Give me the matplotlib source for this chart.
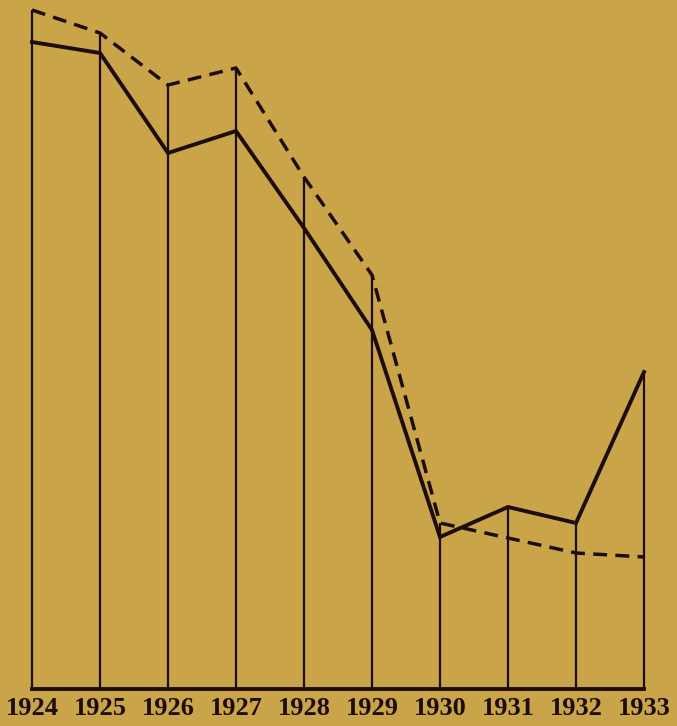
"""
Recreate an old printed line chart: two series (solid and dashed) over 1924-1933,
with vertical drop lines at every year down to a heavy baseline.
"""

import matplotlib
matplotlib.use("Agg")
import matplotlib.pyplot as plt

# Data (arbitrary units, baseline = 0)
years = [1924, 1925, 1926, 1927, 1928, 1929, 1930, 1931, 1932, 1933]
solid_values = [647, 636, 536, 558, 461, 359, 152, 182, 166, 317]
dashed_values = [679, 656, 604, 621, 512, 414, 166, 151, 136, 132]
year_labels = [str(y) for y in years]

BG = "#caa449"
INK = "#1c0d0c"


def main():
    fig = plt.figure(figsize=(6.77, 7.26), dpi=100)
    fig.patch.set_facecolor(BG)

    # axes placed so that the first/last years sit at the picture's drop lines
    left, right = 32 / 677, 644 / 677
    bottom, top = (726 - 689) / 726, 1.0
    ax = fig.add_axes([left, bottom, right - left, top - bottom])
    ax.set_facecolor(BG)
    ax.set_xlim(years[0], years[-1])
    ax.set_ylim(0, 689)

    # vertical drop lines up to the higher of the two series
    for x, s, d in zip(years, solid_values, dashed_values):
        ax.plot([x, x], [0, max(s, d)], color=INK, linewidth=1.6,
                solid_capstyle="butt", zorder=2, clip_on=False)

    ax.plot(years, solid_values, color=INK, linewidth=2.8,
            solid_joinstyle="miter", zorder=3, clip_on=False)
    ax.plot(years, dashed_values, color=INK, linewidth=2.5,
            linestyle=(0, (4.0, 2.4)), zorder=3, clip_on=False)

    # heavy baseline
    ax.plot([years[0], years[-1]], [0, 0], color=INK, linewidth=2.8,
            solid_capstyle="projecting", zorder=4, clip_on=False)

    for spine in ax.spines.values():
        spine.set_visible(False)
    ax.set_yticks([])
    ax.set_xticks(years)
    ax.set_xticklabels(year_labels, fontsize=19, fontweight="bold",
                       family=["Liberation Serif", "DejaVu Serif"], color=INK)
    ax.tick_params(axis="x", length=0, pad=6)

    fig.savefig("out.png", dpi=100, facecolor=BG)


if __name__ == "__main__":
    main()
